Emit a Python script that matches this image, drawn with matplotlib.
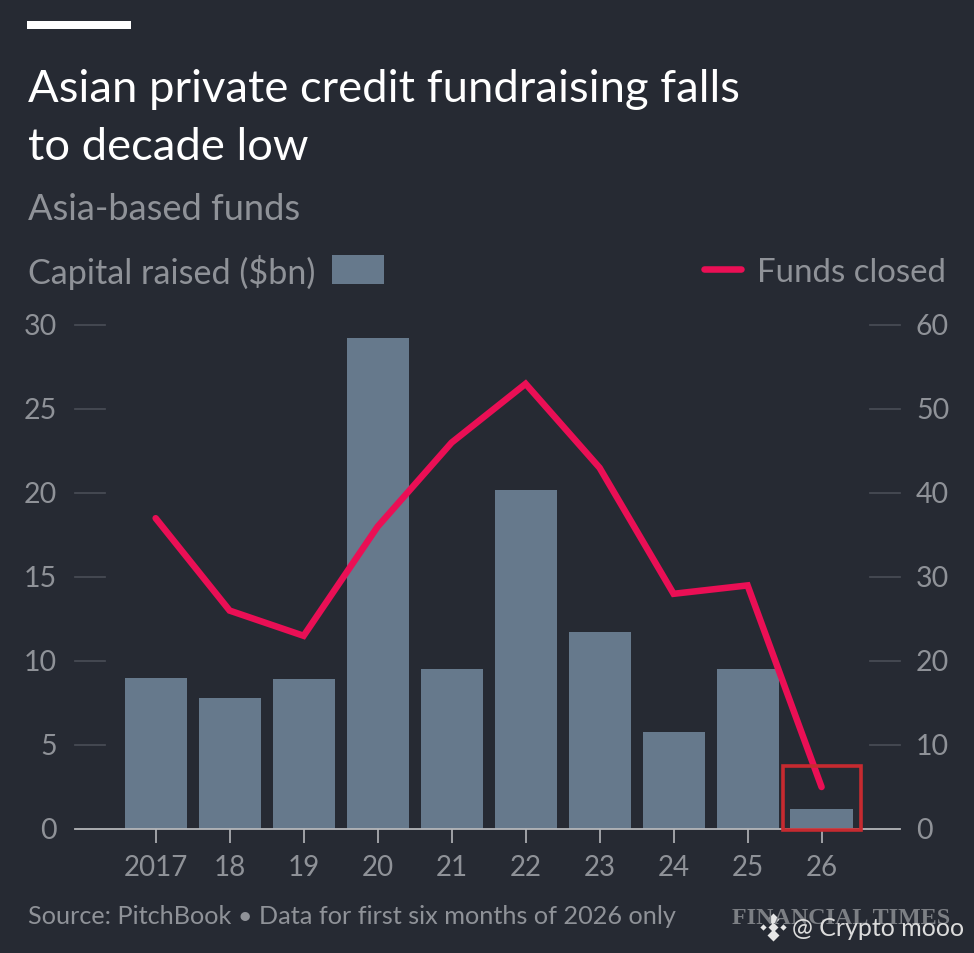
import matplotlib
matplotlib.use("Agg")
import matplotlib.pyplot as plt
from matplotlib.patches import Rectangle

categories = ["2017", "18", "19", "20", "21", "22", "23", "24", "25", "26"]
capital_raised = [9.0, 7.8, 8.9, 29.2, 9.5, 20.2, 11.7, 5.8, 9.5, 1.2]
funds_closed = [37, 26, 23, 36, 46, 53, 43, 28, 29, 5]
left_ticks = [0, 5, 10, 15, 20, 25, 30]
right_ticks = [0, 10, 20, 30, 40, 50, 60]

BG = "#262a33"
GREY = "#8f9298"
BAR = "#66798c"
RED = "#ea0f55"
W, H = 974, 954
plt.rcParams["font.family"] = ["Lato", "DejaVu Sans"]

fig = plt.figure(figsize=(W / 100, H / 100), dpi=100, facecolor=BG)
x0, x1 = 75, 900
ytop, ybot = 326, 830
ax = fig.add_axes([x0 / W, 1 - ybot / H, (x1 - x0) / W, (ybot - ytop) / H], facecolor=BG)
xs = list(range(len(categories)))
ax.bar(xs, capital_raised, width=0.84, color=BAR, zorder=2)
ax.set_xlim(-1.09, 10.06)
ax.set_ylim(0, 30)
ax.set_yticks(left_ticks)
ax.set_xticks(xs)
ax.set_xticklabels(categories)
for s in ("top", "left", "right"):
    ax.spines[s].set_visible(False)
ax.spines["bottom"].set_color("#b4b6ba")
ax.spines["bottom"].set_linewidth(1.3)
ax.tick_params(axis="x", length=10, color="#b4b6ba", width=1.2, labelcolor=GREY, labelsize=20, pad=8)
ax.tick_params(axis="y", length=0, labelleft=False)

ax2 = ax.twinx()
ax2.set_ylim(0, 60)
ax2.set_yticks(right_ticks)
ax2.tick_params(axis="y", length=0, labelright=False)
for s in ax2.spines.values():
    s.set_visible(False)
ax2.plot(xs, funds_closed, color=RED, lw=4.7, solid_joinstyle="miter", solid_capstyle="round", zorder=4)

for v in left_ticks:
    if v:
        ax.plot([0, 30 / (x1 - x0)], [v, v], transform=ax.get_yaxis_transform(), color="#4a4e57", lw=1.2, clip_on=False, zorder=1)
        ax.plot([1 - 30 / (x1 - x0), 1], [v, v], transform=ax.get_yaxis_transform(), color="#4a4e57", lw=1.2, clip_on=False, zorder=1)
    ax.annotate(str(v), (0, v), xycoords=ax.get_yaxis_transform(), xytext=(-13, -1), textcoords="offset points",
                ha="right", va="center", color=GREY, fontsize=20.5)
for v in right_ticks:
    ax2.annotate(str(v), (1, v), xycoords=ax2.get_yaxis_transform(), xytext=(11.5, -1), textcoords="offset points",
                 ha="left", va="center", color=GREY, fontsize=20.5)


def tx(px, py, s, size, color, ha="left", **kw):
    return fig.text(px / W, 1 - py / H, s, fontsize=size, color=color, ha=ha, va="center", **kw)


fig.add_artist(Rectangle((27 / W, 1 - 30 / H), 104 / W, 8 / H, transform=fig.transFigure, color="white", lw=0))
tx(28, 90, "Asian private credit fundraising falls", 32.7, "white")
tx(28, 147, "to decade low", 32.7, "white")
tx(28, 210, "Asia-based funds", 26.1, GREY)
tx(28, 273, "Capital raised ($bn)", 24.6, GREY)
fig.add_artist(Rectangle((332 / W, 1 - 285 / H), 52 / W, 29 / H, transform=fig.transFigure, color=BAR, lw=0))
fig.add_artist(plt.Line2D([704 / W, 741 / W], [1 - 270 / H] * 2, transform=fig.transFigure, color=RED, lw=4.7, solid_capstyle="round"))
tx(946, 273, "Funds closed", 23.8, GREY, ha="right")
fig.add_artist(Rectangle((783 / W, 1 - 830.5 / H), 78 / W, 64 / H, transform=fig.transFigure, fill=False, ec="#c62a30", lw=2.6, zorder=6))
tx(28, 917, "Source: PitchBook \u2022 Data for first six months of 2026 only", 18.2, GREY)
tx(732, 919, "FINANCIAL TIMES", 17.3, "#7c7f84", family="Liberation Serif", fontweight="bold")
for dx, dy, ms in [(0, -8, 8), (0, 8, 8), (-10, 0, 4), (10, 0, 4), (0, 0, 6)]:
    fig.add_artist(plt.Line2D([(773 + dx) / W], [1 - (928 + dy) / H], transform=fig.transFigure, marker="D", ms=ms * 0.8,
                              color="#e6e6e6", mec="none", ls="none"))
tx(792, 929, "@ Crypto mooo", 18, "#dcdcdc")

fig.savefig("out.png", dpi=100, facecolor=BG)
